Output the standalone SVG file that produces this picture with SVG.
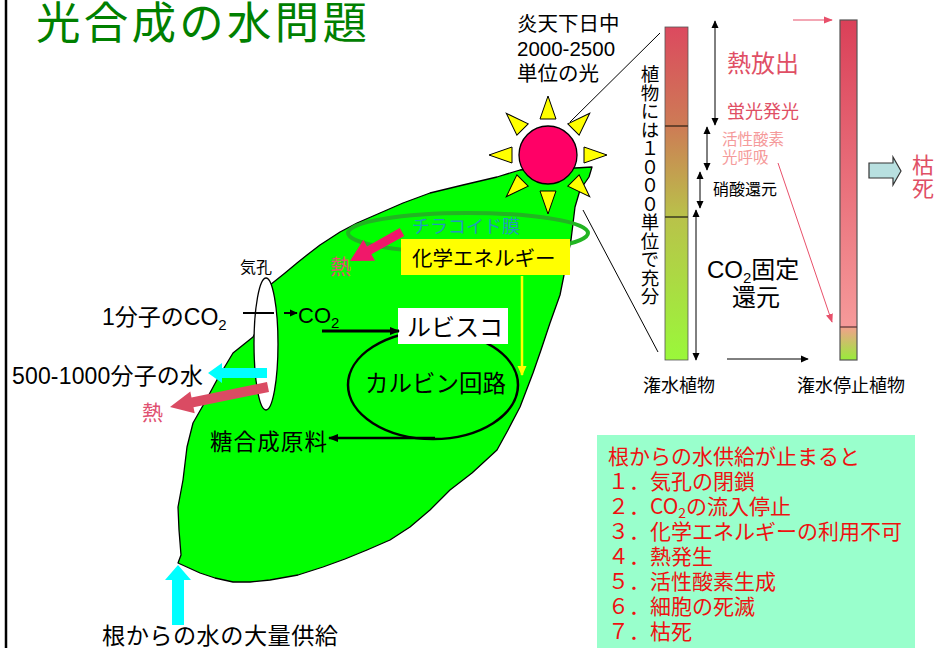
<svg xmlns="http://www.w3.org/2000/svg" width="936" height="648" viewBox="0 0 936 648">
  <defs>
    <style>
      text { font-family: "Liberation Sans", "Noto Sans CJK JP", sans-serif; fill: #000; }
      .jp { font-family: "Noto Sans CJK JP", sans-serif; }
      .pinkTxt { fill: #E04F65; }
      .list { fill: #EE1111; font-size: 21px; font-family: "Noto Sans CJK JP", "Liberation Sans", sans-serif; }
      .thin { stroke: #000; stroke-width: 1; fill: none; }
      .dbl { stroke: #000; stroke-width: 1; fill: none; marker-start: url(#ahS); marker-end: url(#ahS); }
      .ray { fill: #FFFF00; stroke: #000; stroke-width: 1; }
    </style>
    <marker id="ahS" viewBox="0 0 10 10" refX="9" refY="5" markerWidth="8" markerHeight="8" markerUnits="userSpaceOnUse" orient="auto-start-reverse">
      <path d="M0,0.5 L10,5 L0,9.5 z" fill="#000"/>
    </marker>
    <marker id="ahB" viewBox="0 0 10 10" refX="9" refY="5" markerWidth="10" markerHeight="10" markerUnits="userSpaceOnUse" orient="auto">
      <path d="M0,1 L10,5 L0,9 z" fill="#000"/>
    </marker>
    <marker id="ahP" viewBox="0 0 10 10" refX="9" refY="5" markerWidth="9" markerHeight="9" markerUnits="userSpaceOnUse" orient="auto">
      <path d="M0,1 L10,5 L0,9 z" fill="#E8506A"/>
    </marker>
    <marker id="ahY" viewBox="0 0 10 10" refX="9" refY="5" markerWidth="10" markerHeight="10" markerUnits="userSpaceOnUse" orient="auto">
      <path d="M0,0.5 L10,5 L0,9.5 z" fill="#FFFF00"/>
    </marker>
    <linearGradient id="gWet" x1="0" y1="0" x2="0" y2="1">
      <stop offset="0" stop-color="#DC4A5F"/>
      <stop offset="0.3" stop-color="#CD7C55"/>
      <stop offset="0.57" stop-color="#B9C24A"/>
      <stop offset="1" stop-color="#9AF83A"/>
    </linearGradient>
    <linearGradient id="gDry" x1="0" y1="0" x2="0" y2="1">
      <stop offset="0" stop-color="#DA4058"/>
      <stop offset="1" stop-color="#F69A9A"/>
    </linearGradient>
    <linearGradient id="gDryLow" x1="0" y1="0" x2="0" y2="1">
      <stop offset="0" stop-color="#F2A08C"/>
      <stop offset="1" stop-color="#98EC3A"/>
    </linearGradient>
  </defs>

  <rect width="936" height="648" fill="#FFFFFF"/>
  <line x1="6" y1="0" x2="6" y2="648" stroke="#000" stroke-width="2.5"/>

  <text id="title" class="jp" x="36" y="39" font-size="44.5" textLength="331" style="fill:#008000">光合成の水問題</text>

  <!-- leaf -->
  <g id="leaf">
    <path d="M270,285 L285,273 297,263 307,255 320,245 340,232 357,223 380,213 403,203 430,193 463,185 497,177 520,170 548,167 575,168 592,167
             L589,177 580,190 575,207 571,240 565,270 560,295 550,323 541,350 533,373 520,407 508,430 497,450 472,473 450,490 430,510 410,527 390,540 367,550 345,559 323,567 298,575 270,580 250,582 233,582 215,578 200,573 178,563
             L181,555 179,530 178,507 183,480 187,447 193,423 205,402 218,378 233,353 253,337 262,320 Z"
          fill="#00FF00" stroke="#000" stroke-width="1.3" stroke-linejoin="round"/>
  </g>

  <g id="thylakoid">
    <ellipse cx="468" cy="233" rx="120" ry="20" fill="none" stroke="#22B422" stroke-width="4"/>
    <text class="jp" x="412" y="233" font-size="18" style="fill:#2299BB">チラコイド膜</text>
  </g>

  <g id="stomata">
    <ellipse cx="266" cy="344" rx="12" ry="66" fill="#FFFFFF" stroke="#000" stroke-width="1.3"/>
    <text class="jp" x="240" y="273" font-size="16">気孔</text>
  </g>

  <g id="sun">
    <g class="ray">
      <polygon points="548,96 540,119 556,119"/>
      <polygon points="548,96 540,119 556,119" transform="rotate(45 548 155)"/>
      <polygon points="548,96 540,119 556,119" transform="rotate(90 548 155)"/>
      <polygon points="548,96 540,119 556,119" transform="rotate(135 548 155)"/>
      <polygon points="548,96 540,119 556,119" transform="rotate(180 548 155)"/>
      <polygon points="548,96 540,119 556,119" transform="rotate(225 548 155)"/>
      <polygon points="548,96 540,119 556,119" transform="rotate(270 548 155)"/>
      <polygon points="548,96 540,119 556,119" transform="rotate(315 548 155)"/>
    </g>
    <circle cx="548" cy="155" r="29" fill="#FF0066" stroke="#000" stroke-width="1.3"/>
    <text x="517" y="31" font-size="20.5">炎天下日中</text>
    <text x="517" y="56" font-size="20.5">2000-2500</text>
    <text x="517" y="81" font-size="20.5">単位の光</text>
  </g>

  <g id="chem-energy">
    <rect x="401" y="239" width="169" height="36" fill="#FFFF00"/>
    <text class="jp" x="412" y="266" font-size="20.5">化学エネルギー</text>
  </g>

  <g id="calvin">
    <ellipse cx="433" cy="385" rx="85" ry="54" fill="none" stroke="#000" stroke-width="2.5"/>
    <text class="jp" x="365" y="392" font-size="23.5">カルビン回路</text>
  </g>

  <g id="rubisco">
    <rect x="398" y="308" width="110" height="36" fill="#FFFFFF"/>
    <text class="jp" x="407" y="336" font-size="24">ルビスコ</text>
  </g>

  <g id="labels-leaf">
    <text x="102" y="325" font-size="23">1分子のCO<tspan font-size="15" dy="5">2</tspan></text>
    <text x="298" y="323" font-size="22">CO<tspan font-size="15" dy="5">2</tspan></text>
    <text x="12" y="384" font-size="23" textLength="191">500-1000分子の水</text>
    <text class="jp" x="142" y="420" font-size="21" style="fill:#E05070">熱</text>
    <text class="jp" x="330" y="274" font-size="21" style="fill:#E05070">熱</text>
    <text class="jp" x="210" y="450" font-size="22.5" textLength="117">糖合成原料</text>
    <text class="jp" x="102" y="644" font-size="23.2" textLength="236">根からの水の大量供給</text>
  </g>

  <!-- water-use bars -->
  <g id="bar-wet">
    <rect x="665" y="27" width="23" height="333" fill="url(#gWet)" stroke="#555" stroke-width="0.8"/>
    <line x1="665" y1="126" x2="688" y2="126" stroke="#4A3020" stroke-width="1.5"/>
    <line x1="665" y1="217" x2="688" y2="217" stroke="#3A3A20" stroke-width="1.5"/>
    <text class="jp" x="650" y="65" font-size="18.5" style="writing-mode: vertical-rl;">植物には１０００単位で充分</text>
    <text class="jp" x="643" y="392" font-size="18">潅水植物</text>
  </g>

  <g id="bar-dry">
    <rect x="840" y="20" width="17" height="307" fill="url(#gDry)"/>
    <rect x="840" y="327" width="17" height="33" fill="url(#gDryLow)"/>
    <rect x="840" y="20" width="17" height="340" fill="none" stroke="#555" stroke-width="1.2"/>
    <line x1="840" y1="327" x2="857" y2="327" stroke="#553333" stroke-width="1.2"/>
    <text class="jp" x="797" y="392" font-size="18">潅水停止植物</text>
  </g>

  <g id="bar-labels">
    <text class="jp pinkTxt" x="727" y="72" font-size="24">熱放出</text>
    <text class="jp pinkTxt" x="727" y="118" font-size="18">蛍光発光</text>
    <text class="jp" x="722" y="145" font-size="15.5" style="fill:#F59A9A">活性酸素</text>
    <text class="jp" x="722" y="163" font-size="15.5" style="fill:#F59A9A">光呼吸</text>
    <text class="jp" x="713" y="195" font-size="16">硝酸還元</text>
    <text x="707" y="278" font-size="24">CO<tspan font-size="15" dy="5">2</tspan><tspan dy="-5">固定</tspan></text>
    <text class="jp" x="732" y="306" font-size="24">還元</text>
  </g>

  <g id="wither">
    <polygon points="869,163 893,163 893,157 901,171 893,185 893,178 869,178" fill="#B8E0E0" stroke="#333" stroke-width="1.2"/>
    <text class="jp pinkTxt" x="912" y="173" font-size="22">枯</text>
    <text class="jp pinkTxt" x="912" y="196" font-size="22">死</text>
  </g>

  <g id="summary">
    <rect x="597" y="435" width="318" height="213" fill="#99FFCC"/>
    <text class="list" x="608" y="464">根からの水供給が止まると</text>
    <text class="list" x="608" y="489">１．気孔の閉鎖</text>
    <text class="list" x="608" y="514">２．CO<tspan font-size="14" dy="4">2</tspan><tspan dy="-4">の流入停止</tspan></text>
    <text class="list" x="608" y="539">３．化学エネルギーの利用不可</text>
    <text class="list" x="608" y="564">４．熱発生</text>
    <text class="list" x="608" y="589">５．活性酸素生成</text>
    <text class="list" x="608" y="614">６．細胞の死滅</text>
    <text class="list" x="608" y="639">７．枯死</text>
  </g>

  <g id="connectors">
    <!-- sun light into the bar -->
    <line class="thin" x1="570" y1="122" x2="660" y2="33"/>
    <line class="thin" x1="583" y1="210" x2="658" y2="352"/>
    <!-- ranges beside the wet bar -->
    <line class="dbl" x1="715" y1="21" x2="715" y2="125"/>
    <line class="dbl" x1="707" y1="127" x2="707" y2="170"/>
    <line class="dbl" x1="700" y1="172" x2="700" y2="208"/>
    <line class="dbl" x1="696" y1="210" x2="696" y2="360"/>
    <line x1="727" y1="359" x2="808" y2="359" stroke="#000" stroke-width="1" marker-end="url(#ahS)"/>
    <!-- pink pointers to the dry bar -->
    <line x1="793" y1="20" x2="832" y2="20" stroke="#E8506A" stroke-width="1.2" marker-end="url(#ahP)"/>
    <line x1="778" y1="163" x2="832" y2="322" stroke="#E8506A" stroke-width="1" marker-end="url(#ahP)"/>
    <!-- CO2 path -->
    <line x1="243" y1="313" x2="274" y2="313" stroke="#000" stroke-width="2"/>
    <line x1="284" y1="313" x2="297" y2="313" stroke="#000" stroke-width="2" marker-end="url(#ahS)"/>
    <line x1="322" y1="331" x2="399" y2="331" stroke="#000" stroke-width="3" marker-end="url(#ahB)"/>
    <line x1="435" y1="438" x2="329" y2="438" stroke="#000" stroke-width="2.5" marker-end="url(#ahB)"/>
    <!-- chemical energy to Calvin cycle -->
    <line x1="522" y1="276" x2="522" y2="375" stroke="#FFFF00" stroke-width="2.5" marker-end="url(#ahY)"/>
    <!-- heat from thylakoid -->
    <polygon points="404.2,235.9 371.4,254.2 375,260.8 350,261 363.4,239.8 367,246.4 399.8,228.1" fill="#F0186A"/>
    <!-- water out through the stoma -->
    <polygon points="267,368 222,368 222,363 208,373 222,383 222,378 267,378" fill="#00FFFF"/>
    <polygon points="267,382.1 191.5,397.5 190.3,391.6 170,407 194.7,413.2 193.5,407.3 269,391.9" fill="#DA4B63"/>
    <!-- water from roots -->
    <polygon points="172,625 172,580 165,580 178,565 191,580 184,580 184,625" fill="#00FFFF"/>
  </g>
</svg>
